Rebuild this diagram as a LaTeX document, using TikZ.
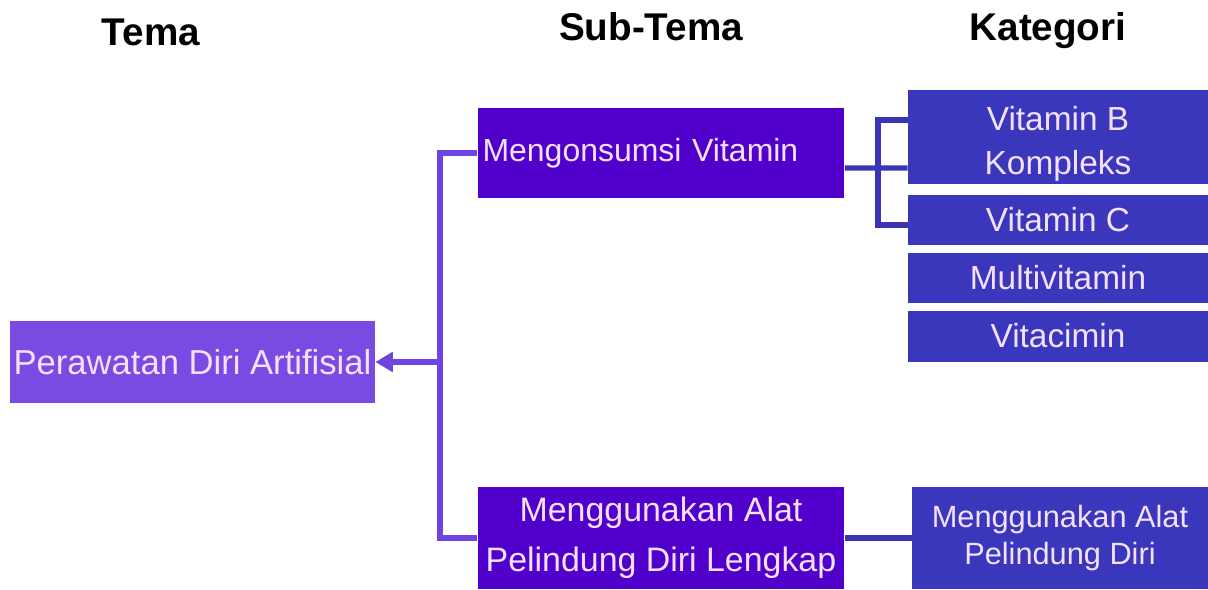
\documentclass[tikz,border=0pt]{standalone}
\usepackage{fontspec}
\setmainfont{Liberation Sans}
\usetikzlibrary{arrows.meta}
\definecolor{temafill}{HTML}{7B4AE2}
\definecolor{subfill}{HTML}{5100CB}
\definecolor{katfill}{HTML}{3A37BD}
\definecolor{lline}{HTML}{6E45E0}
\definecolor{rline}{HTML}{3B35B5}
\definecolor{boxtext}{HTML}{F4E1FF}
\begin{document}
\begin{tikzpicture}[x=0.02cm, y=-0.02cm,
	box/.style={rectangle, inner sep=0pt, text=boxtext, align=center, font=\fontsize{19}{26}\selectfont},
	tema/.style={box, fill=temafill},
	subtema/.style={box, fill=subfill, minimum width=7.34cm},
	kat/.style={box, fill=katfill, minimum width=6cm},
	head/.style={anchor=base, font=\bfseries\fontsize{22}{26}\selectfont},
	tconn/.style={draw=lline, line width=3pt},
	kconn/.style={draw=rline, line width=3pt}]
	\useasboundingbox (0,0) rectangle (1208,589);
	\node[head] (h1) at (151,45) {Tema};
	\node[head] (h2) at (651,40) {Sub-Tema};
	\node[head] (h3) at (1048,40) {Kategori};
	\node[tema, minimum width=7.3cm, minimum height=1.66cm, font=\fontsize{19.7}{24}\selectfont] (root) at (192.5,362) {Perawatan Diri Artifisial};
	\node[subtema, minimum height=1.8cm, text width=7.14cm, align=left, font=\fontsize{18.2}{24}\selectfont] (sub1) at (661,153) {Mengonsumsi Vitamin};
	\node[subtema, minimum height=2.04cm, font=\fontsize{19.3}{28.3}\selectfont] (sub2) at (661,538) {Menggunakan Alat\\Pelindung Diri Lengkap};
	\node[kat, minimum height=1.88cm] (vitB) at (1058,137) {\raisebox{-0.27cm}[0pt][0pt]{\begin{tabular}{@{}c@{}}Vitamin B\\[-1pt]Kompleks\end{tabular}}};
	\node[kat, minimum height=1cm] (vitC) at (1058,220) {Vitamin C};
	\node[kat, minimum height=1cm] (multi) at (1058,278) {Multivitamin};
	\node[kat, minimum height=1.02cm] (vitac) at (1058,336) {Vitacimin};
	\node[kat, minimum width=5.92cm, minimum height=2.04cm, font=\fontsize{17.5}{21}\selectfont] (kat2) at (1060,538) {Menggunakan Alat\\Pelindung Diri};
	% tema - sub-tema
	\coordinate (lj) at (440,362);
	\draw[tconn] (sub1.west) -| (lj) |- (sub2.west);
	\draw[tconn, -{Triangle[length=10pt,width=11pt]}] (lj) -- (root.east);
	% sub-tema - kategori
	\coordinate (rj) at (878,168);
	\draw[kconn] ([yshift=-0.3cm]sub1.east) -- ([yshift=-0.62cm]vitB.west);
	\draw[kconn] ([yshift=0.34cm]vitB.west) -| (rj) |- ([yshift=-0.1cm]vitC.west);
	\draw[kconn] (sub2.east) -- (kat2.west);
\end{tikzpicture}
\end{document}
